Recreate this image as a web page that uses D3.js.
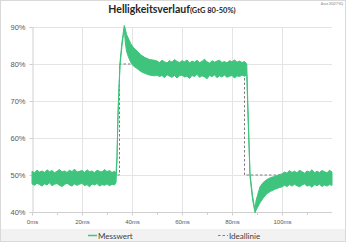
<!DOCTYPE html>
<html>
<head>
<meta charset="utf-8">
<script src="https://cdn.jsdelivr.net/npm/d3@7"></script>
<style>
  body { margin: 0; background: #fff; }
  svg { display: block; font-family: Lato, "Open Sans", sans-serif; }
</style>
</head>
<body>
<div id="chart"></div>
<script>
// Messwert: obere und untere Kante des Rauschbandes (in %)
const measTime = [
  0,1,2,3,4,5,6,7,8,9,10,11,12,13,14,15,16,17,18,19,20,21,22,23,24,25,26,27,28,29,30,31,32,33,
  33.6,34.0,34.4,35.2,36.0,36.9,37.3,37.8,38.5,39.5,40.5,42,43.5,45,47,49,
  50,51,52,53,54,55,56,57,58,59,60,61,62,63,64,65,66,67,68,69,70,71,72,73,74,75,76,77,78,79,80,81,82,83,84,85,
  85.9,86.3,87.2,88.2,89.2,89.6,90.2,91.2,92.5,94,95.5,97,98.5,100,
  101,102,103,104,105,106,107,108,109,110,111,112,113,114,115,116,117,118,119,120
];
const measHigh = [
  51.0,50.6,51.3,50.8,51.1,50.7,51.4,50.9,51.2,50.6,51.0,51.5,50.8,51.1,50.7,51.3,50.9,51.6,50.8,51.0,51.2,50.7,51.4,50.9,51.1,50.6,51.3,51.0,50.8,51.5,50.9,51.2,50.7,51.0,
  50.5,55.0,67.0,80.5,86.0,90.4,89.5,88.0,87.0,85.5,84.5,83.5,82.5,81.8,81.2,81.0,
  80.8,80.4,81.0,80.6,80.3,80.9,80.5,81.2,80.7,80.4,80.9,80.6,81.1,80.3,80.8,80.5,81.0,80.4,80.7,81.3,80.6,80.2,80.9,80.5,80.8,81.0,80.4,80.7,80.3,80.9,80.6,81.1,80.5,80.8,80.4,80.7,
  80.0,70.0,50.5,44.5,40.5,43.0,44.5,46.8,48.0,48.8,49.3,49.6,50.0,50.3,
  50.8,50.5,51.2,50.7,51.0,50.6,51.3,50.9,50.5,51.1,50.8,51.4,50.6,51.0,50.7,51.2,50.9,50.6,51.3,50.8
];
const measLow = [
  47.6,47.2,47.8,47.4,47.0,47.6,47.3,47.9,47.1,47.5,47.7,47.2,46.9,47.4,47.8,47.3,47.0,47.6,47.2,47.5,47.8,47.1,47.4,46.8,47.6,47.3,47.7,47.0,47.4,47.2,47.6,47.1,47.5,47.3,
  48.0,54.0,66.0,79.5,85.0,89.5,86.0,83.5,82.0,80.5,79.5,78.8,78.0,77.5,77.0,76.8,
  77.0,76.6,76.9,76.3,77.1,76.7,76.4,76.9,76.2,76.8,77.0,76.5,76.7,76.1,76.9,76.6,77.2,76.4,76.8,76.5,76.0,76.9,76.6,77.1,76.3,76.8,76.5,77.0,76.4,76.7,76.9,76.2,76.8,76.6,77.0,76.7,
  77.0,68.0,49.5,43.5,39.8,40.5,41.2,42.5,43.8,45.0,45.6,46.1,46.5,46.8,
  47.2,46.9,47.4,47.0,47.5,47.1,46.8,47.3,47.6,47.0,47.2,46.7,47.4,47.1,47.5,46.9,47.3,47.0,47.4,47.2
];

// Ideallinie
const idealTime = [0, 35, 35, 85, 85, 120];
const idealValue = [50, 50, 80, 80, 50, 50];

// Achsen
const yTicks = [40, 50, 60, 70, 80, 90];
const xTicks = [0, 20, 40, 60, 80, 100];
const xMinorTicks = [10, 30, 50, 70, 90, 110];

const width = 346;
const height = 242;
const green = '#3ec47c';

const svg = d3.select('#chart')
    .append('svg')
    .attr('width', width)
    .attr('height', height);

svg.append('rect')
    .attr('x', 0.5).attr('y', 0.5)
    .attr('width', width - 1).attr('height', height - 1)
    .attr('fill', '#fff')
    .attr('stroke', '#d9d9d9');

const x = d3.scaleLinear().domain([0, 120]).range([32, 332]);
const y = d3.scaleLinear().domain([40, 90]).range([212, 27]);

// Gitternetz
svg.append('g')
    .selectAll('line')
    .data(yTicks.filter(d => d > 40))
    .enter()
    .append('line')
    .attr('x1', x(0)).attr('x2', x(120))
    .attr('y1', d => Math.round(y(d)) + 0.5)
    .attr('y2', d => Math.round(y(d)) + 0.5)
    .attr('stroke', '#e4e4e4');

svg.append('g')
    .selectAll('line')
    .data(xTicks.filter(d => d > 0))
    .enter()
    .append('line')
    .attr('x1', d => Math.round(x(d)) + 0.5)
    .attr('x2', d => Math.round(x(d)) + 0.5)
    .attr('y1', y(90)).attr('y2', y(40))
    .attr('stroke', '#e4e4e4');

// y-Achse
const yAxis = svg.append('g')
    .attr('transform', `translate(${x(0) + 0.5},0)`)
    .call(d3.axisLeft(y).tickValues(yTicks).tickSize(3).tickFormat(d => d + '%'));
yAxis.select('.domain').attr('stroke', '#d0d0d0');
yAxis.selectAll('.tick line').attr('stroke', '#d0d0d0');
yAxis.selectAll('.tick text')
    .attr('fill', '#595959')
    .style('font-size', '7.5px')
    .attr('x', -7);

// x-Achse
const xAxis = svg.append('g')
    .attr('transform', `translate(0,${y(40) + 0.5})`)
    .call(d3.axisBottom(x).tickValues(xTicks).tickSize(3).tickFormat(d => d + 'ms'));
xAxis.select('.domain').attr('stroke', '#d0d0d0').attr('d', `M${x(0)},0H${x(120)}`);
xAxis.selectAll('.tick line').attr('stroke', '#d0d0d0');
xAxis.selectAll('.tick text')
    .attr('fill', '#595959')
    .style('font-size', '6px')
    .attr('y', 7);

svg.append('g')
    .selectAll('line')
    .data(xMinorTicks)
    .enter()
    .append('line')
    .attr('x1', d => Math.round(x(d)) + 0.5)
    .attr('x2', d => Math.round(x(d)) + 0.5)
    .attr('y1', y(40)).attr('y2', y(40) + 3)
    .attr('stroke', '#d0d0d0');

// Ideallinie
const idealLine = d3.line()
    .x((d, i) => x(idealTime[i]))
    .y(d => y(d));

svg.append('path')
    .attr('d', idealLine(idealValue))
    .attr('fill', 'none')
    .attr('stroke', '#7f7f7f')
    .attr('stroke-width', 1)
    .attr('stroke-dasharray', '2.5,2');

// Messwert als Band
const band = d3.area()
    .x((d, i) => x(measTime[i]))
    .y0((d, i) => y(measLow[i]))
    .y1((d, i) => y(measHigh[i]));

svg.append('path')
    .attr('d', band(measTime))
    .attr('fill', green)
    .attr('stroke', green)
    .attr('stroke-width', 1)
    .attr('stroke-linejoin', 'round');

// Titel
const title = svg.append('text')
    .attr('x', 172)
    .attr('y', 13)
    .attr('text-anchor', 'middle')
    .attr('fill', '#262626')
    .style('font-weight', 'bold');
title.append('tspan').style('font-size', '10.5px').text('Helligkeitsverlauf');
title.append('tspan').style('font-size', '7.5px').text('(GtG 80-50%)');

svg.append('text')
    .attr('x', 343)
    .attr('y', 5)
    .attr('text-anchor', 'end')
    .attr('fill', '#7f7f7f')
    .style('font-size', '3.5px')
    .text('Asus XG27VQ');

// Legende
svg.append('rect')
    .attr('x', 1).attr('y', 229)
    .attr('width', width - 2).attr('height', 12)
    .attr('fill', '#f2f2f2');

svg.append('line')
    .attr('x1', 88).attr('x2', 97)
    .attr('y1', 235.5).attr('y2', 235.5)
    .attr('stroke', green)
    .attr('stroke-width', 1.5);
svg.append('text')
    .attr('x', 98).attr('y', 238.5)
    .attr('fill', '#404040')
    .style('font-size', '8px')
    .text('Messwert');

svg.append('line')
    .attr('x1', 218).attr('x2', 228)
    .attr('y1', 235.5).attr('y2', 235.5)
    .attr('stroke', '#7f7f7f')
    .attr('stroke-dasharray', '2.5,2');
svg.append('text')
    .attr('x', 229).attr('y', 238.5)
    .attr('fill', '#404040')
    .style('font-size', '8px')
    .text('Ideallinie');
</script>
</body>
</html>
